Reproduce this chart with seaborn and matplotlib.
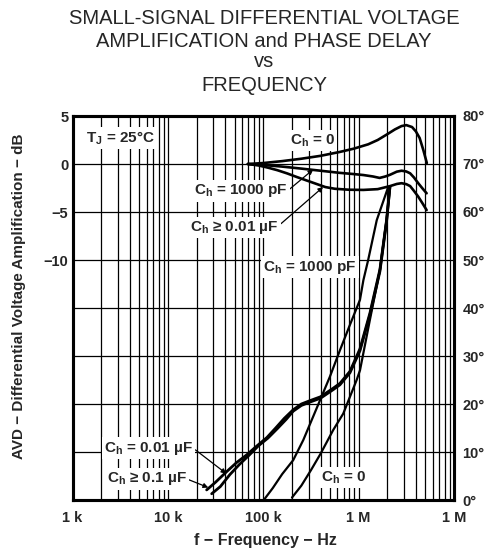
import numpy as np
import matplotlib
matplotlib.use("Agg")
import matplotlib.pyplot as plt
import seaborn as sns
from matplotlib.ticker import FixedLocator, LogLocator, NullFormatter

# ---- gain curves (left axis): frequency in kHz, gain in dB ----
f_gain_ch0 = [69, 100, 158, 251, 398, 631, 891, 1259, 1585, 1995, 2399, 2818,
              3162, 3631, 3981, 4365, 4786, 5190]
g_gain_ch0 = [0.0, 0.1, 0.3, 0.55, 0.85, 1.25, 1.6, 2.05, 2.5, 3.1, 3.6, 3.95,
              4.05, 3.85, 3.4, 2.7, 1.4, 0.1]

f_gain_1000p = [69, 100, 158, 251, 398, 631, 891, 1122, 1413, 1660, 1905, 2138,
                2512, 2818, 3162, 3467, 3802, 4217, 4677, 5164]
g_gain_1000p = [0.0, -0.1, -0.27, -0.48, -0.7, -0.92, -1.05, -1.15, -1.3, -1.45, -1.3, -1.12,
                -0.8, -0.7, -0.78, -0.97, -1.4, -2.0, -2.55, -3.05]

f_gain_001u = [69, 89, 112, 141, 178, 224, 282, 355, 447, 562, 794, 1122, 1585,
               2138, 2512, 2818, 3162, 3467, 3802, 4217, 4677, 5164]
g_gain_001u = [0.0, -0.15, -0.38, -0.65, -0.98, -1.35, -1.7, -2.05, -2.4, -2.58, -2.68, -2.7, -2.62,
               -2.3, -2.08, -2.0, -2.1, -2.3, -2.8, -3.4, -4.1, -4.8]

# ---- phase delay curves (right axis): frequency in kHz, phase in degrees ----
f_ph_01u = [25.5, 31.6, 41.3, 52.5, 67, 85, 109, 135, 166, 206, 251, 309, 398,
            542, 637, 811, 1033, 1312, 1671, 1963, 2128]
p_ph_01u = [2.1, 3.7, 5.9, 7.8, 9.4, 11.2, 13.0, 15.0, 17.0, 18.8, 20.0, 20.7, 21.5,
            23.3, 24.3, 26.8, 31.5, 38.9, 48.0, 58.3, 65.2]

f_ph_001u = [28.8, 35.5, 44.7, 56.2, 70.8, 89.1, 112, 141, 174, 206, 251, 309, 398,
             542, 637, 811, 1033, 1312, 1671, 1963, 2128]
p_ph_001u = [1.3, 2.8, 5.3, 7.4, 9.3, 11.3, 12.9, 14.9, 16.8, 18.5, 19.7, 20.4, 21.2,
             23.0, 24.0, 26.5, 31.1, 38.5, 47.6, 58.0, 65.2]

f_ph_1000p = [104, 126, 158, 206, 263, 334, 398, 500, 637, 811, 1033, 1122, 1259, 1549, 2042]
p_ph_1000p = [0.3, 2.5, 5.4, 8.3, 12.5, 17.4, 21.0, 25.7, 31.2, 36.5, 41.7, 45.8, 50.0, 58.3, 65.2]

f_ph_ch0 = [200, 251, 316, 398, 542, 690, 811, 953, 1033, 1312, 1671, 1963, 2128]
p_ph_ch0 = [0.5, 3.0, 6.2, 9.6, 14.6, 18.0, 21.5, 25.0, 27.0, 37.5, 47.9, 58.3, 65.2]

x_ticks = [1e3, 1e4, 1e5, 1e6, 1e7]
x_labels = ["1 k", "10 k", "100 k", "1 M", "1 M"]
db_ticks = [-35, -30, -25, -20, -15, -10, -5, 0, 5]
db_labels = ["", "", "", "", "", "\u221210", "\u22125", "0", "5"]
deg_ticks = [0, 10, 20, 30, 40, 50, 60, 70, 80]

title_lines = ["SMALL-SIGNAL DIFFERENTIAL VOLTAGE", "AMPLIFICATION and PHASE DELAY",
               "vs", "FREQUENCY"]

sns.set_theme(style="white")
plt.rcParams["font.family"] = ["Liberation Sans", "DejaVu Sans"]
plt.rcParams["mathtext.fontset"] = "custom"
plt.rcParams["mathtext.rm"] = "Liberation Sans:bold"
plt.rcParams["mathtext.it"] = "Liberation Sans:bold"
plt.rcParams["mathtext.bf"] = "Liberation Sans:bold"

W, H = 495, 553
fig = plt.figure(figsize=(W / 100, H / 100), dpi=100)
L, R, T, B = 72.5, 454, 116, 500
ax = fig.add_axes([L / W, 1 - B / H, (R - L) / W, (B - T) / H])

lw_curve = 1.9
for f, g in [(f_gain_ch0, g_gain_ch0), (f_gain_1000p, g_gain_1000p), (f_gain_001u, g_gain_001u)]:
    sns.lineplot(x=np.array(f) * 1e3, y=g, ax=ax, color="black", lw=lw_curve,
                 sort=False, estimator=None, zorder=2)

ax.set_xscale("log")
ax.set_xlim(1e3, 1e7)
ax.set_ylim(-35, 5)
ax.xaxis.set_major_locator(FixedLocator(x_ticks))
ax.xaxis.set_minor_locator(LogLocator(base=10, subs=np.arange(2, 10)))
ax.xaxis.set_minor_formatter(NullFormatter())
ax.set_xticks(x_ticks, x_labels, fontweight="bold", fontsize=10.5)
ax.set_yticks(db_ticks, db_labels, fontweight="bold", fontsize=10.5)
ax.tick_params(which="both", length=0)
ax.tick_params(axis="x", pad=8)
ax.tick_params(axis="y", pad=3)
ax.grid(True, which="both", axis="x", color="black", lw=0.9)
ax.grid(True, which="major", axis="y", color="black", lw=0.9)
ax.set_xlabel("")
ax.set_ylabel("")

ax2 = ax.twinx()
for f, p, lw in [(f_ph_01u, p_ph_01u, 2.0), (f_ph_001u, p_ph_001u, 2.0),
                 (f_ph_1000p, p_ph_1000p, 1.6), (f_ph_ch0, p_ph_ch0, 1.6)]:
    sns.lineplot(x=np.array(f) * 1e3, y=p, ax=ax2, color="black", lw=lw,
                 sort=False, estimator=None, zorder=2)
ax2.set_ylim(0, 80)
ax2.set_yticks(deg_ticks, [f"{d}\u00b0" for d in deg_ticks], fontweight="bold", fontsize=10.5)
ax2.tick_params(which="both", length=0, pad=6)
ax2.set_ylabel("")
ax2.grid(False)

for a in (ax, ax2):
    for s in a.spines.values():
        s.set_color("black")
        s.set_linewidth(2.2)

box = dict(boxstyle="square,pad=0.15", fc="white", ec="none")
arrow = dict(arrowstyle="-|>", color="black", lw=0.9, mutation_scale=7, shrinkA=0, shrinkB=0)
tkw = dict(fontsize=11, fontweight="bold", ha="center", va="center", bbox=box, zorder=1.5)

ax.text(3.2e3, 2.7, r"T$_{J}$ = 25°C", **tkw)
ax.text(328e3, 2.4, r"C$_{h}$ = 0", **tkw)
ax.annotate(r"C$_{h}$ = 1000 pF", xy=(334e3, -0.57), xytext=(58e3, -2.8),
            arrowprops=dict(arrow, relpos=(1.0, 0.5)), **tkw)
ax.annotate("C$_{h}$ \u2265 0.01 \u00b5F", xy=(424e3, -2.4), xytext=(50e3, -6.6),
            arrowprops=dict(arrow, relpos=(1.0, 0.6)), **tkw)
ax2.text(309e3, 48.5, r"C$_{h}$ = 1000 pF", **tkw)
ax2.annotate("C$_{h}$ = 0.01 \u00b5F", xy=(41e3, 5.5), xytext=(6.3e3, 10.8),
             arrowprops=dict(arrow, relpos=(1.0, 0.5)), **tkw)
ax2.annotate("C$_{h}$ \u2265 0.1 \u00b5F", xy=(26.5e3, 2.6), xytext=(6.0e3, 4.4),
             arrowprops=dict(arrow, relpos=(1.0, 0.5)), **tkw)
ax2.text(690e3, 4.6, r"C$_{h}$ = 0", **tkw)

for txt, yb in zip(title_lines, [24, 46.7, 67, 90.7]):
    fig.text(264 / W, 1 - yb / H, txt, ha="center", va="baseline", fontsize=14.5)

fig.text(265 / W, 1 - 540 / H, "f \u2212 Frequency \u2212 Hz", ha="center", va="center",
         fontsize=11.5, fontweight="bold")
fig.text(19 / W, 1 - 296 / H, "AVD \u2212 Differential Voltage Amplification \u2212 dB",
         ha="center", va="center", rotation=90, fontsize=11, fontweight="bold")

fig.savefig("out.png", dpi=100)
